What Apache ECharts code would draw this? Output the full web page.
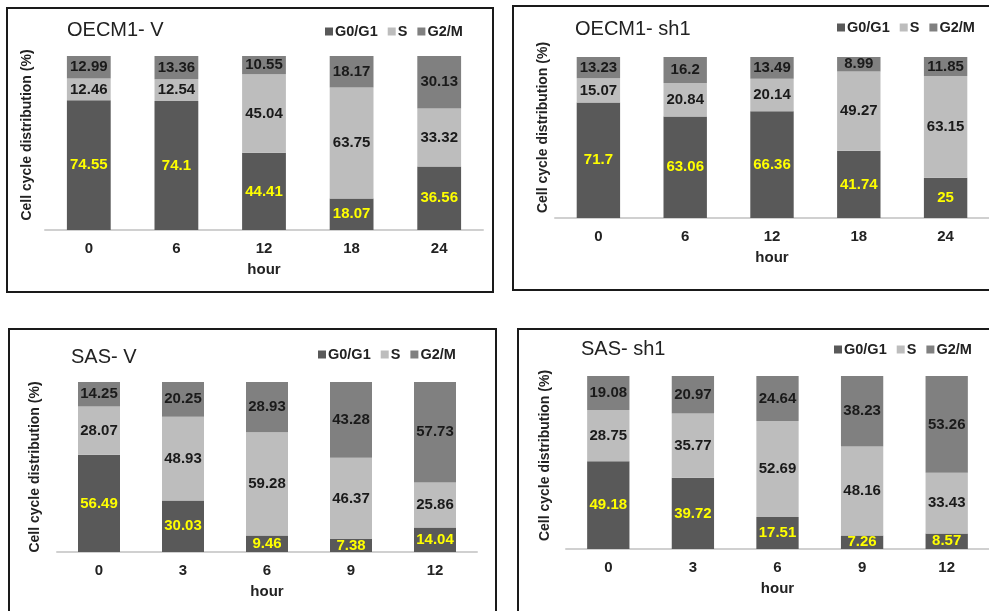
<!DOCTYPE html>
<html>
<head>
<meta charset="utf-8">
<script src="https://cdn.jsdelivr.net/npm/echarts@6/dist/echarts.min.js"></script>
<style>html,body{margin:0;padding:0;background:#fff}#c{width:989px;height:611px}</style>
</head>
<body>
<div id="c"></div>
<script>
// ---- data ----
var phaseNames = ['G0/G1', 'S', 'G2/M'];
var hoursOECM = ['0', '6', '12', '18', '24'];
var hoursSAS = ['0', '3', '6', '9', '12'];
var panelTitles = ['OECM1- V', 'OECM1- sh1', 'SAS- V', 'SAS- sh1'];

var oecmV_G0G1 = [74.55, 74.1, 44.41, 18.07, 36.56];
var oecmV_S    = [12.46, 12.54, 45.04, 63.75, 33.32];
var oecmV_G2M  = [12.99, 13.36, 10.55, 18.17, 30.13];

var oecmSh_G0G1 = [71.7, 63.06, 66.36, 41.74, 25];
var oecmSh_S    = [15.07, 20.84, 20.14, 49.27, 63.15];
var oecmSh_G2M  = [13.23, 16.2, 13.49, 8.99, 11.85];

var sasV_G0G1 = [56.49, 30.03, 9.46, 7.38, 14.04];
var sasV_S    = [28.07, 48.93, 59.28, 46.37, 25.86];
var sasV_G2M  = [14.25, 20.25, 28.93, 43.28, 57.73];

var sasSh_G0G1 = [49.18, 39.72, 17.51, 7.26, 8.57];
var sasSh_S    = [28.75, 35.77, 52.69, 48.16, 33.43];
var sasSh_G2M  = [19.08, 20.97, 24.64, 38.23, 53.26];

// ---- build ----
var FONT = '"Liberation Sans", Arial, sans-serif';
var colors = ['#595959', '#bdbdbd', '#808080'];
var labelColors = ['#ffff00', '#1a1a1a', '#1a1a1a'];

var panels = [
  {cats: hoursOECM, sets: [oecmV_G0G1, oecmV_S, oecmV_G2M],
   grid: {left: 45, width: 438, top: 56, height: 174},
   title: {left: 67, top: 20}, legend: {left: 325, top: 24},
   yGap: 11, yPad: 16, box: [7, 8, 486, 284]},
  {cats: hoursOECM, sets: [oecmSh_G0G1, oecmSh_S, oecmSh_G2M],
   grid: {left: 555, width: 436, top: 57, height: 161},
   title: {left: 575, top: 19}, legend: {left: 837, top: 20},
   yGap: 5, yPad: 20, box: [513, 6, 500, 284]},
  {cats: hoursSAS, sets: [sasV_G0G1, sasV_S, sasV_G2M],
   grid: {left: 57, width: 420, top: 382, height: 170},
   title: {left: 71, top: 347}, legend: {left: 318, top: 347},
   yGap: 15, yPad: 0, box: [9, 329, 487, 300]},
  {cats: hoursSAS, sets: [sasSh_G0G1, sasSh_S, sasSh_G2M],
   grid: {left: 566, width: 424, top: 376, height: 173},
   title: {left: 581, top: 339}, legend: {left: 834, top: 342},
   yGap: 14, yPad: 14, box: [518, 329, 500, 300]}
];

var option = {
  animation: false,
  backgroundColor: '#ffffff',
  textStyle: {fontFamily: FONT},
  title: [], legend: [], grid: [], xAxis: [], yAxis: [], series: [],
  graphic: []
};

panels.forEach(function (p, pi) {
  option.grid.push(p.grid);
  option.title.push({
    text: panelTitles[pi], left: p.title.left, top: p.title.top, padding: 0,
    textStyle: {fontFamily: FONT, fontSize: 20, fontWeight: 'normal', color: '#222'}
  });
  option.legend.push({
    data: phaseNames, left: p.legend.left, top: p.legend.top, padding: 0,
    icon: 'rect', itemWidth: 8, itemHeight: 8, itemGap: 10, orient: 'horizontal',
    textStyle: {fontFamily: FONT, fontSize: 14.5, fontWeight: 'bold', color: '#222', padding: [0, 0, 0, -3]}
  });
  option.xAxis.push({
    type: 'category', gridIndex: pi, data: p.cats,
    name: 'hour', nameLocation: 'middle', nameGap: 32,
    nameTextStyle: {fontFamily: FONT, fontSize: 15, fontWeight: 'bold', color: '#222'},
    axisLine: {lineStyle: {color: '#d0d0d0', width: 2}},
    axisTick: {show: false},
    axisLabel: {fontFamily: FONT, fontSize: 15, fontWeight: 'bold', color: '#222', margin: 11}
  });
  option.yAxis.push({
    type: 'value', gridIndex: pi, min: 0, max: 100,
    name: 'Cell cycle distribution (%)', nameLocation: 'middle', nameGap: p.yGap, nameRotate: 90,
    nameTextStyle: {fontFamily: FONT, fontSize: 14, fontWeight: 'bold', color: '#222', padding: [0, 0, 0, p.yPad]},
    axisLine: {show: false}, axisTick: {show: false}, axisLabel: {show: false},
    splitLine: {show: false}
  });
  // 100% stacked: normalize each column to its total, labels show the raw values
  var totals = p.cats.map(function (_, i) {
    return p.sets[0][i] + p.sets[1][i] + p.sets[2][i];
  });
  p.sets.forEach(function (arr, si) {
    option.series.push({
      type: 'bar', name: phaseNames[si], xAxisIndex: pi, yAxisIndex: pi,
      stack: 'panel' + pi, barWidth: '50%',
      itemStyle: {color: colors[si]},
      data: arr.map(function (v, i) { return {value: v / totals[i] * 100, raw: v}; }),
      label: {
        show: true, position: 'inside',
        fontFamily: FONT, fontSize: 15, fontWeight: 'bold', color: labelColors[si],
        formatter: (function (a) { return function (d) { return String(a[d.dataIndex]); }; })(arr)
      }
    });
  });
  option.graphic.push({
    type: 'rect', silent: true, z: 100,
    shape: {x: p.box[0], y: p.box[1], width: p.box[2], height: p.box[3]},
    style: {fill: 'none', stroke: '#1a1a1a', lineWidth: 2}
  });
});

var chart = echarts.init(document.getElementById('c'), null, {renderer: 'canvas'});
chart.setOption(option);
</script>
</body>
</html>
